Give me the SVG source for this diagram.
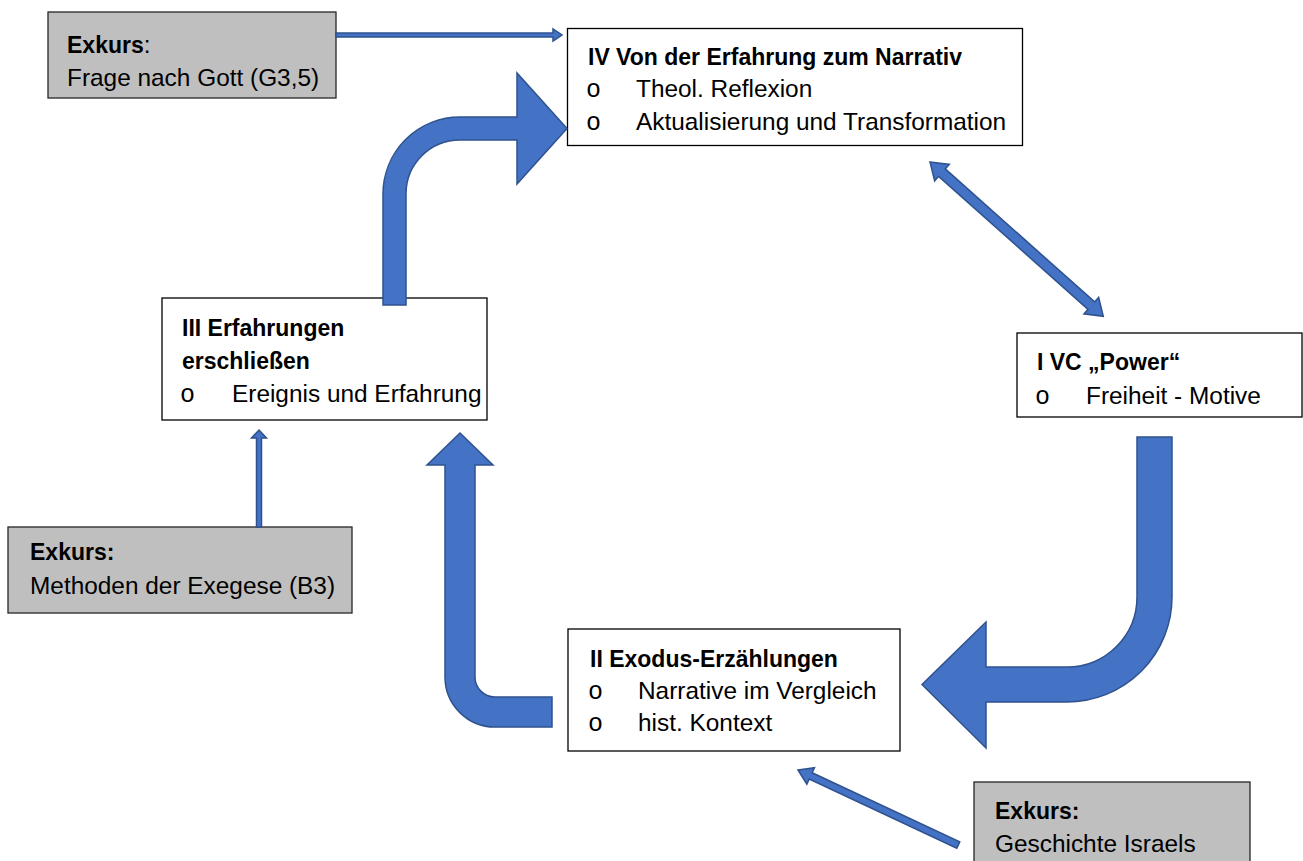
<svg xmlns="http://www.w3.org/2000/svg" width="1303" height="861" viewBox="0 0 1303 861">
<style>
.box{fill:#ffffff;stroke:#000000;stroke-width:1.3}
.gbox{fill:#bfbfbf;stroke:#262626;stroke-width:1.3}
.t{font-family:"Liberation Sans",Arial,sans-serif;font-size:24.4px;fill:#000}
.b{font-family:"Liberation Sans",Arial,sans-serif;font-size:23px;font-weight:bold;fill:#000}
.o{font-family:"Liberation Mono","Courier New",monospace;font-size:25px;fill:#000}
.arr{fill:#4472c4;stroke:#2f528f;stroke-width:1.5;stroke-linejoin:miter}
</style>
<rect width="1303" height="861" fill="#ffffff"/>

<g id="node-exkurs-gott">
<rect class="gbox" x="48" y="12" width="288" height="86"/>
<text x="67" y="53"><tspan class="b">Exkurs</tspan><tspan class="t">:</tspan></text>
<text class="t" x="67" y="86">Frage nach Gott (G3,5)</text>
</g>

<g id="node-iv">
<rect class="box" x="567.5" y="28.5" width="455" height="117"/>
<text class="b" x="588" y="65">IV Von der Erfahrung zum Narrativ</text>
<text class="o" x="586" y="97">o</text>
<text class="t" x="636" y="97">Theol. Reflexion</text>
<text class="o" x="586" y="130">o</text>
<text class="t" x="636" y="130">Aktualisierung und Transformation</text>
</g>

<g id="node-i">
<rect class="box" x="1017" y="333" width="285" height="84"/>
<text class="b" x="1037" y="370">I VC „Power“</text>
<text class="o" x="1035" y="404">o</text>
<text class="t" x="1086" y="404">Freiheit - Motive</text>
</g>

<g id="node-iii">
<rect class="box" x="162" y="298" width="325" height="122"/>
<text class="b" x="182" y="336">III Erfahrungen</text>
<text class="b" x="182" y="369">erschließen</text>
<text class="o" x="180" y="402">o</text>
<text class="t" x="232" y="402">Ereignis und Erfahrung</text>
</g>

<g id="node-ii">
<rect class="box" x="568" y="629" width="332" height="122"/>
<text class="b" x="590" y="667">II Exodus-Erzählungen</text>
<text class="o" x="588" y="699">o</text>
<text class="t" x="638" y="699">Narrative im Vergleich</text>
<text class="o" x="588" y="731">o</text>
<text class="t" x="638" y="731">hist. Kontext</text>
</g>

<g id="node-exkurs-exegese">
<rect class="gbox" x="8" y="527" width="344" height="86"/>
<text class="b" x="30" y="560">Exkurs:</text>
<text class="t" x="30" y="594">Methoden der Exegese (B3)</text>
</g>

<g id="node-exkurs-israel">
<rect class="gbox" x="974" y="782" width="276" height="95"/>
<text class="b" x="995" y="819">Exkurs:</text>
<text class="t" x="995" y="852">Geschichte Israels</text>
</g>

<g id="connectors">
<path class="arr" d="M383,305 L383,194 A77,77 0 0 1 460,117 L517,117 L517,73 L567,128.5 L517,184 L517,140 L460,140 A54,54 0 0 0 406,194 L406,305 Z"/>
<path class="arr" d="M1137,437 L1172,437 L1172,597 A105,105 0 0 1 1067,702 L986,702 L986,748 L922,684.5 L986,622 L986,667 L1067,667 A70,70 0 0 0 1137,597 Z"/>
<path class="arr" d="M552,697 L552,727 L495,727 A50,50 0 0 1 445,677 L445,465 L427,465 L460,433 L493,465 L475,465 L475,677 A20,20 0 0 0 495,697 Z"/>
<path class="arr" transform="translate(930,162) rotate(41.68)" d="M0,0 L16,-11 L16,-5 L216,-5 L216,-11 L232,0 L216,11 L216,5 L16,5 L16,11 Z"/>
<path class="arr" stroke-width="1" d="M336,33 L553,33 L553,29 L562,35 L553,41 L553,37 L336,37 Z"/>
<path class="arr" stroke-width="1" d="M259,430 L266.5,438 L261.5,438 L261.5,527 L256.5,527 L256.5,438 L251.5,438 Z"/>
<path class="arr" stroke-width="1" transform="translate(798,770) rotate(25.1)" d="M0,0 L14,-9 L14,-3.5 L177,-3.5 L177,3.5 L14,3.5 L14,9 Z"/>
</g>
</svg>
